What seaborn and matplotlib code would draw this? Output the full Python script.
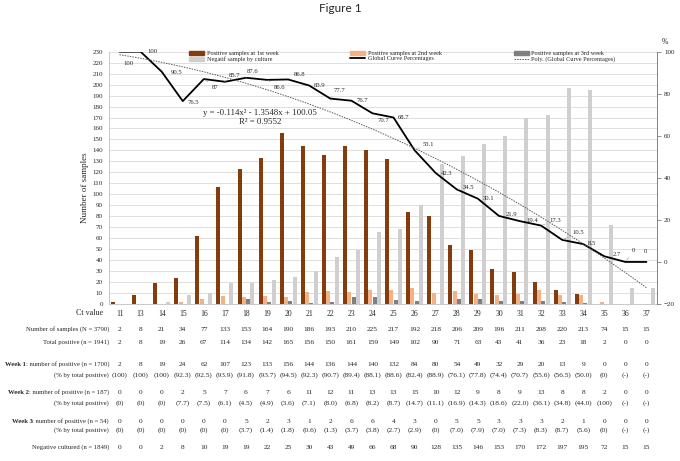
# Figure 1 - Ct value distribution, positives by week and global curve
import numpy as np
import pandas as pd
import matplotlib
matplotlib.use('Agg')
import matplotlib.pyplot as plt
import matplotlib.transforms as mtransforms
from matplotlib.patches import Patch
from matplotlib.lines import Line2D
import seaborn as sns

ct = [11, 13, 14, 15, 16, 17, 18, 19, 20, 21, 22, 23, 24, 25, 26, 27, 28, 29, 30, 31, 32, 33, 34, 35, 36, 37]
n_samples = [2, 8, 21, 34, 77, 133, 153, 164, 190, 186, 193, 210, 225, 217, 192, 218, 206, 209, 196, 211, 208, 220, 213, 74, 15, 15]
total_pos = [2, 8, 19, 26, 67, 114, 134, 142, 165, 156, 150, 161, 159, 149, 102, 90, 71, 63, 43, 41, 36, 23, 18, 2, 0, 0]
week1 = [2, 8, 19, 24, 62, 107, 123, 133, 156, 144, 136, 144, 140, 132, 84, 80, 54, 49, 32, 29, 20, 13, 9, 0, 0, 0]
week1_pct = [100, 100, 100, 92.3, 92.5, 93.9, 91.8, 93.7, 94.5, 92.3, 90.7, 89.4, 88.1, 88.6, 82.4, 88.9, 76.1, 77.8, 74.4, 70.7, 55.6, 56.5, 50.0, 0, None, None]
week2 = [0, 0, 0, 2, 5, 7, 6, 7, 6, 11, 12, 11, 13, 13, 15, 10, 12, 9, 8, 9, 13, 8, 8, 2, 0, 0]
week2_pct = [0, 0, 0, 7.7, 7.5, 6.1, 4.5, 4.9, 3.6, 7.1, 8.0, 6.8, 8.2, 8.7, 14.7, 11.1, 16.9, 14.3, 18.6, 22.0, 36.1, 34.8, 44.0, 100, None, None]
week3 = [0, 0, 0, 0, 0, 0, 5, 2, 3, 1, 2, 6, 6, 4, 3, 0, 5, 5, 3, 3, 3, 2, 1, 0, 0, 0]
week3_pct = [0, 0, 0, 0, 0, 0, 3.7, 1.4, 1.8, 0.6, 1.3, 3.7, 3.8, 2.7, 2.9, 0, 7.0, 7.9, 7.0, 7.3, 8.3, 8.7, 5.6, 0, None, None]
negative = [0, 0, 2, 8, 10, 19, 19, 22, 25, 30, 43, 49, 66, 68, 90, 128, 135, 146, 153, 170, 172, 197, 195, 72, 15, 15]
global_pct = [100, 100, 90.5, 76.5, 87, 85.7, 87.6, 86.6, 86.8, 83.9, 77.7, 76.7, 70.7, 68.7, 53.1, 42.3, 34.5, 30.1, 21.9, 19.4, 17.3, 10.5, 8.5, 2.7, 0, 0]
poly_coef = [-0.114, -1.3548, 100.05]  # from the trendline equation printed on the chart

series_names = ['Positive samples at 1st week', 'Positive samples at 2nd week',
                'Positive samples at 3rd week', 'Negatif sample by culture']
colors = ['#843C0C', '#F4B183', '#7F7F7F', '#D0CECE']

# label offsets (pixels) and leader flag for the curve data labels
lab_off = [(9, -12, 0), (12, 0, 0), (15, -1, 0), (11, -1, 0), (11, -8, 1), (10, 6, 1), (7, 6, 1),
           (12, -8, 1), (11, 5, 1), (10, 0, 0), (9, 8, 1), (11, 0, 0), (11, -7, 1), (10, 0, 0),
           (14, 6, 1), (11, 0, 0), (12, 2, 1), (11, 0, 0), (13, 1, 0), (12, 1, 0), (14, 5, 1),
           (16, 7, 1), (9, 1, 0), (13, 2, 0), (8, 11, 1), (-1, 10, 0)]

sns.set_theme(style='white')
plt.rcParams['font.family'] = ['Liberation Serif', 'DejaVu Serif']

W, H = 680, 461
fig = plt.figure(figsize=(W / 100, H / 100), dpi=100)
ax = fig.add_axes([109 / W, 1 - 304 / H, 548 / W, 252.3 / H])

df = pd.DataFrame({'Ct': [str(c) for c in ct] * 4,
                   'series': np.repeat(series_names, len(ct)),
                   'n': week1 + week2 + week3 + negative})
sns.barplot(data=df, x='Ct', y='n', hue='series', hue_order=series_names, palette=colors,
            width=0.82, gap=0.08, saturation=1, linewidth=0, legend=False, ax=ax)

ax.set_xlim(-0.5, len(ct) - 0.5)
ax.set_ylim(0, 230)
ax.set_yticks(range(0, 231, 10))
ax.yaxis.grid(True, color='#d9d9d9', lw=0.6)
ax.set_axisbelow(True)
ax.set_xlabel('')
ax.set_ylabel('Number of samples', fontsize=6.5)
ax.yaxis.set_label_coords(-0.036, 0.46)
ax.tick_params(axis='x', length=0, pad=4, labelsize=5.5)
ax.tick_params(axis='y', length=0, pad=4.5, labelsize=5)
for s in ['top', 'right']:
    ax.spines[s].set_visible(False)
for s in ['left', 'bottom']:
    ax.spines[s].set_color('#bfbfbf')
    ax.spines[s].set_linewidth(0.6)

# percentage axis
ax2 = ax.twinx()
ax2.set_ylim(-20, 100)
ax2.set_yticks(range(-20, 101, 20))
ax2.tick_params(axis='y', length=3, width=0.6, color='#808080', pad=2, labelsize=5)
for s in ['top', 'left', 'bottom']:
    ax2.spines[s].set_visible(False)
ax2.spines['right'].set_color('#808080')
ax2.spines['right'].set_linewidth(0.7)

x = np.arange(len(ct))
sns.lineplot(x=x, y=global_pct, ax=ax2, color='black', lw=1.3)
xs = np.arange(1, len(ct) + 1)
ax2.plot(x, np.polyval(poly_coef, xs), color='#595959', lw=0.7, ls=(0, (1.5, 1.2)))
ax2.set_ylim(-20, 100)

for i, v in enumerate(global_pct):
    dx, dy, lead = lab_off[i]
    ap = dict(arrowstyle='-', color='#a6a6a6', lw=0.5, shrinkA=0.5, shrinkB=1) if lead else None
    ax2.annotate(f'{v:g}', xy=(i, v), xytext=(dx, dy), textcoords='offset pixels',
                 ha='center', va='center', fontsize=4.8, color='#262626', arrowprops=ap)

fig.text(260 / W, 1 - 112.7 / H, 'y = -0.114x² - 1.3548x + 100.05', ha='center', va='center', fontsize=6.3)
fig.text(260 / W, 1 - 122 / H, 'R² = 0.9552', ha='center', va='center', fontsize=6.3)

handles = [Patch(color=colors[0]), Patch(color=colors[3]),
           Patch(color=colors[1]), Line2D([], [], color='black', lw=1.3),
           Patch(color=colors[2]), Line2D([], [], color='#595959', lw=0.7, ls=(0, (1.5, 1.2)))]
labels = [series_names[0], series_names[3], series_names[1], 'Global Curve Percentages',
          series_names[2], 'Poly. (Global Curve Percentages)']
ax2.legend(handles, labels, ncol=3, loc='upper left', bbox_to_anchor=(186 / W, 1 - 48 / H),
           bbox_transform=fig.transFigure, frameon=False, fontsize=4.5, handlelength=2.4,
           handleheight=0.5, handletextpad=0.4, labelspacing=0.05, columnspacing=11.5, borderpad=0)

fig.text(0.5, 1 - 8 / H, 'Figure 1', ha='center', va='center', fontsize=8.5, family=['Lato', 'DejaVu Sans'])
fig.text(665 / W, 1 - 42 / H, '%', ha='center', va='center', fontsize=5.5)
fig.text(103 / W, 1 - 312.7 / H, 'Ct value', ha='right', va='center', fontsize=5.8)

# table under the chart
trans = mtransforms.blended_transform_factory(ax.transData, fig.transFigure)
renderer = fig.canvas.get_renderer()


def fmt_pct(v):
    if v is None:
        return '(-)'
    if v in (0, 100):
        return f'({int(v)})'
    return f'({v:.1f})'


rows = [
    (331, None, 'Number of samples (N = 3790)', [str(v) for v in n_samples]),
    (344, None, 'Total positive (n = 1941)', [str(v) for v in total_pos]),
    (365.7, 'Week 1', ': number of positive (n = 1700)', [str(v) for v in week1]),
    (377, None, '(% by total positive)', [fmt_pct(v) for v in week1_pct]),
    (394, 'Week 2', ': number of positive (n = 187)', [str(v) for v in week2]),
    (404.7, None, '(% by total positive)', [fmt_pct(v) for v in week2_pct]),
    (423, 'Week 3', ': number of positive (n = 54)', [str(v) for v in week3]),
    (432, None, '(% by total positive)', [fmt_pct(v) for v in week3_pct]),
    (449, None, 'Negative cultured (n = 1849)', [str(v) for v in negative]),
]
for ypx, bold, label, vals in rows:
    yf = 1 - ypx / H
    t = fig.text(109 / W, yf, label, ha='right', va='baseline', fontsize=4.8)
    if bold:
        ext = t.get_window_extent(renderer=renderer)
        fig.text(ext.x0 / fig.bbox.width, yf, bold, ha='right', va='baseline', fontsize=4.8, fontweight='bold')
    for i, s in enumerate(vals):
        fig.text(i, yf, s, transform=trans, ha='center', va='baseline', fontsize=5.3)

fig.savefig('out.png', dpi=100)
